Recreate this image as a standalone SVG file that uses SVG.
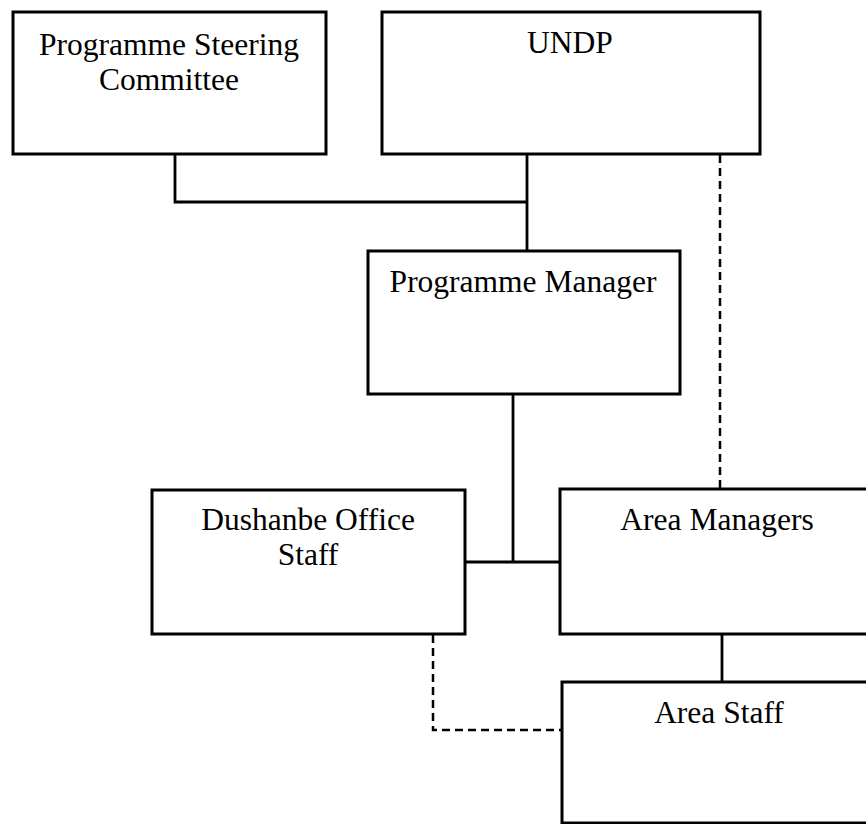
<svg xmlns="http://www.w3.org/2000/svg" width="866" height="824" viewBox="0 0 866 824">
<style>
.box{fill:#fff;stroke:#000;stroke-width:3}
.t{font-family:"Liberation Serif","Times New Roman",serif;font-size:31.5px;fill:#000;text-anchor:middle}
.ln{fill:none;stroke:#000;stroke-width:2.8}
.dash{fill:none;stroke:#000;stroke-width:2.5;stroke-dasharray:8 5}
</style>
<rect width="866" height="824" fill="#fff"/>
<g id="connectors">
<polyline class="ln" points="175,154 175,202 527,202"/>
<line class="ln" x1="527" y1="154" x2="527" y2="251"/>
<line class="ln" x1="513" y1="394" x2="513" y2="562"/>
<line class="ln" x1="465" y1="562" x2="560" y2="562"/>
<line class="ln" x1="722" y1="634" x2="722" y2="682"/>
<line class="dash" x1="720" y1="155" x2="720" y2="489"/>
<polyline class="dash" points="433,635 433,730 562,730"/>
</g>
<g id="psc">
<rect class="box" x="13" y="12" width="313" height="142"/>
<text class="t" x="169" y="55">Programme Steering</text>
<text class="t" x="169" y="90">Committee</text>
</g>
<g id="undp">
<rect class="box" x="382" y="12" width="378" height="142"/>
<text class="t" x="570" y="53">UNDP</text>
</g>
<g id="pm">
<rect class="box" x="368" y="251" width="312" height="143"/>
<text class="t" x="523" y="292">Programme Manager</text>
</g>
<g id="dushanbe">
<rect class="box" x="152" y="490" width="313" height="144"/>
<text class="t" x="308" y="530">Dushanbe Office</text>
<text class="t" x="308" y="565">Staff</text>
</g>
<g id="area-managers">
<rect class="box" x="560" y="489" width="320" height="145"/>
<text class="t" x="717" y="530">Area Managers</text>
</g>
<g id="area-staff">
<rect class="box" x="562" y="682" width="320" height="141"/>
<text class="t" x="719" y="723">Area Staff</text>
</g>
</svg>
